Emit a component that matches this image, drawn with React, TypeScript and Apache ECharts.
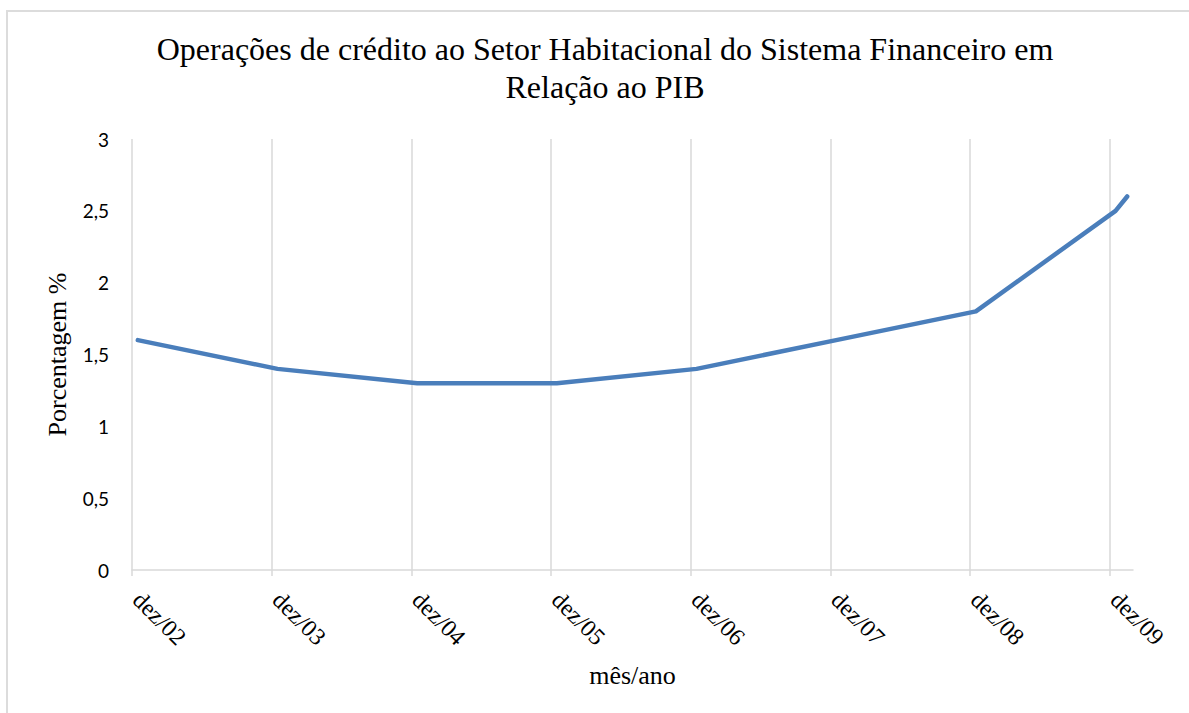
import React, { useEffect, useRef } from "react";
import * as echarts from "echarts";

// Months in the series (Excel-style date axis, monthly base unit)
const periods = ["2002-12", "2003-12", "2004-12", "2005-12", "2006-12", "2007-12", "2008-12", "2009-12", "2010-01"];
const values = [1.6, 1.4, 1.3, 1.3, 1.4, 1.6, 1.8, 2.5, 2.6];
const tickPeriods = ["2002-12", "2003-12", "2004-12", "2005-12", "2006-12", "2007-12", "2008-12", "2009-12"];
const monthNames = ["jan", "fev", "mar", "abr", "mai", "jun", "jul", "ago", "set", "out", "nov", "dez"];
const axisStart = "2002-12";
const axisEnd = "2010-02"; // end of the last month shown
const yTicks = [0, 0.5, 1, 1.5, 2, 2.5, 3];

const titleText = "Operações de crédito ao Setor Habitacional do Sistema Financeiro em\nRelação ao PIB";
const yName = "Porcentagem %";
const xName = "mês/ano";

const SERIF = "Liberation Serif";

function monthIndex(p: string): number {
  const [y, m] = p.split("-").map(Number);
  const [y0, m0] = axisStart.split("-").map(Number);
  return (y - y0) * 12 + (m - m0);
}
function monthLabel(idx: number): string {
  const [y0, m0] = axisStart.split("-").map(Number);
  const total = y0 * 12 + (m0 - 1) + Math.round(idx);
  const y = Math.floor(total / 12);
  const m = total % 12;
  return monthNames[m] + "/" + String(y % 100).padStart(2, "0");
}

export default function App() {
  const ref = useRef<HTMLDivElement>(null);
  useEffect(() => {
    if (!ref.current) return;
    const chart = echarts.init(ref.current, undefined, { renderer: "svg" });
    const ticks = tickPeriods.map(monthIndex);
    const data = periods.map((p, i) => [monthIndex(p) + 0.5, values[i]]);
    chart.setOption({
      animation: false,
      backgroundColor: "transparent",
      title: {
        text: titleText,
        left: 605,
        textAlign: "center",
        top: 30,
        padding: 0,
        textStyle: {
          fontFamily: SERIF,
          fontSize: 32,
          fontWeight: "normal",
          color: "#000",
          lineHeight: 38,
        },
      },
      grid: { left: 132, right: 56, top: 139, bottom: 143, containLabel: false },
      xAxis: {
        type: "value",
        min: 0,
        max: monthIndex(axisEnd),
        interval: 12,
        name: xName,
        nameLocation: "middle",
        nameGap: 92,
        nameTextStyle: { fontFamily: SERIF, fontSize: 26, color: "#000" },
        axisLine: { show: true, lineStyle: { color: "#d9d9d9", width: 1.5 } },
        axisTick: { show: true, length: 6, customValues: ticks, lineStyle: { color: "#d9d9d9", width: 1.5 } },
        splitLine: { show: true, lineStyle: { color: "#d9d9d9", width: 1.5 } },
        axisLabel: {
          customValues: ticks,
          rotate: -45,
          margin: 21,
          padding: [0, 0, 0, 7],
          fontFamily: SERIF,
          fontSize: 24,
          color: "#000",
          formatter: (v: number) => monthLabel(v),
        },
      },
      yAxis: {
        type: "value",
        min: 0,
        max: 3,
        interval: 0.5,
        name: yName,
        nameLocation: "middle",
        nameGap: 62,
        nameTextStyle: { fontFamily: SERIF, fontSize: 26, color: "#000" },
        axisLine: { show: false },
        axisTick: { show: false },
        splitLine: { show: false },
        axisLabel: {
          customValues: yTicks,
          margin: 23,
          fontFamily: "Lato",
          fontSize: 19,
          color: "#000",
          formatter: (v: number) => String(v).replace(".", ","),
        },
      },
      series: [
        {
          type: "line",
          data,
          showSymbol: false,
          symbol: "none",
          lineStyle: { color: "#4a7ebb", width: 4.5, cap: "round", join: "round" },
        },
      ],
    });
    return () => chart.dispose();
  }, []);
  return (
    <div style={{ position: "fixed", left: 0, top: 0, width: 1189, height: 713, overflow: "hidden", background: "#fff" }}>
      <div
        style={{
          position: "absolute",
          left: 6,
          top: 10,
          width: 1300,
          height: 800,
          border: "2px solid #dcdcdc",
          boxSizing: "border-box",
        }}
      />
      <div ref={ref} style={{ position: "absolute", left: 0, top: 0, width: 1189, height: 713 }} />
    </div>
  );
}
